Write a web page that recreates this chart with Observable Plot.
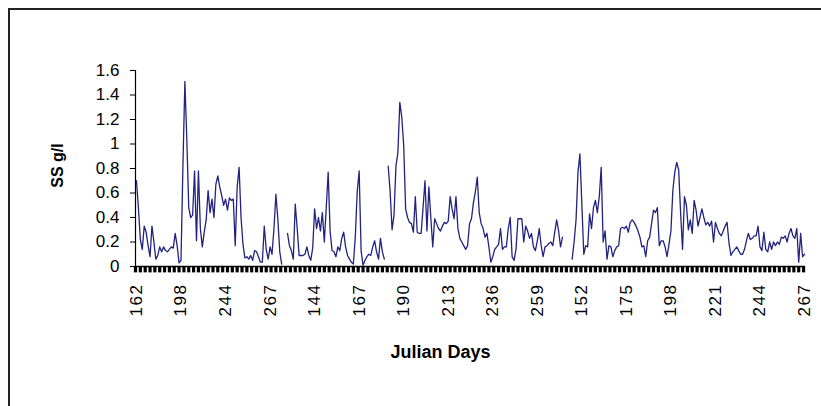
<!DOCTYPE html>
<html><head><meta charset="utf-8">
<script src="https://cdn.jsdelivr.net/npm/d3@7"></script>
<script src="https://cdn.jsdelivr.net/npm/@observablehq/plot@0.6"></script>
<style>
html,body{margin:0;padding:0;background:#fff;overflow:hidden;}
#wrap{position:relative;width:821px;height:406px;overflow:hidden;}
#frame{position:absolute;left:8px;top:8px;width:900px;height:500px;border-top:2px solid #222;border-left:2px solid #222;}
#chart{position:absolute;left:0;top:0;}
</style></head>
<body><div id="wrap"><div id="frame"></div><div id="chart"></div></div>
<script>
// Suspended sediment (g/l), one reading per category; null = missing reading
const season1 = [
  0.70,0.48,0.22,0.14,0.33,0.28,0.17,0.08,0.33,0.20,
  0.06,0.09,0.16,0.12,0.16,0.13,0.12,0.14,0.16,0.15,
  0.27,0.17,0.03,0.05,0.83,1.51,1.04,0.48,0.40,0.42,
  0.78,0.21,0.78,0.31,0.16,0.28,0.38,0.62,0.44,0.55,
  0.40,0.67,0.74,0.65,0.58,0.50,0.55,0.46,0.56,0.54,
  0.55,0.17,0.65,0.81,0.40,0.18,0.07,0.08,0.06,0.09,
  0.05,0.13,0.12,0.08,0.035,0.035,0.33,0.14,0.06,0.16,
  0.10,0.31,0.59,0.39,0.12,0.02,null,null
];
const season2 = [
  0.27,0.17,0.13,0.06,0.51,0.31,0.09,0.09,0.09,0.10,
  0.16,0.09,0.05,0.15,0.47,0.31,0.40,0.29,0.44,0.20,
  0.48,0.77,0.29,0.13,0.12,0.08,0.16,0.13,0.23,0.28,
  0.16,0.09,0.06,0.035,0.02,0.24,0.61,0.78,0.13,0.01,
  0.05,0.08,0.10,0.09,0.16,0.21,0.12,0.06,0.23,0.12,
  0.06,null,0.82,0.61,0.30,0.42,0.82,0.93,1.34,1.22,
  0.99,0.47,0.40,0.36,0.35,0.28,0.57,0.28,0.27,0.27,
  0.48,0.70,0.29,0.65,0.40,0.16,0.39,0.35,0.31,0.29,
  0.33,0.36,0.35,0.37,0.57,0.47,0.39,0.57,0.31,0.23,
  0.20,0.17,0.14,0.17,0.35,0.39,0.52,0.61,0.73,0.44,
  0.35,0.31,0.24,0.27,0.16,0.035,0.08,0.14,0.16,0.18,
  0.31,0.14,0.16,0.16,0.31,0.40,0.08,0.05,0.14,0.39,
  0.39,0.39,0.20,0.33,0.29,0.23,0.27,0.16,0.13,0.21,
  0.31,0.17,0.08,0.16,0.17,0.19,0.20,0.17,0.28,0.38,
  0.29,0.16,0.24,null,null,null,null
];
const season3 = [
  0.06,0.20,0.38,0.77,0.92,0.51,0.10,0.17,0.16,0.43,
  0.31,0.48,0.54,0.44,0.57,0.81,0.20,0.29,0.06,0.17,
  0.16,0.08,0.13,0.16,0.17,0.31,0.32,0.31,0.33,0.28,
  0.36,0.38,0.36,0.33,0.29,0.24,0.16,0.17,0.08,0.21,
  0.24,0.35,0.46,0.44,0.48,0.17,0.21,0.21,0.16,0.08,
  0.18,0.29,0.62,0.77,0.85,0.79,0.44,0.14,0.57,0.50,
  0.30,0.38,0.27,0.54,0.46,0.33,0.40,0.47,0.40,0.34,
  0.36,0.33,0.37,0.20,0.36,0.31,0.27,0.25,0.29,0.33,
  0.36,0.19,0.09,0.12,0.14,0.16,0.13,0.10,0.10,0.14,
  0.21,0.27,0.22,0.23,0.25,0.25,0.33,0.16,0.13,0.28,
  0.14,0.12,0.20,0.14,0.20,0.17,0.20,0.18,0.24,0.23,
  0.25,0.20,0.27,0.31,0.25,0.23,0.31,0.035,0.27,0.08,0.10
];
const tickLabels = ["162","198","244","267","144","167","190","213","236","259","152","175","198","221","244","267"];
const yTicks = [0, 0.2, 0.4, 0.6, 0.8, 1, 1.2, 1.4, 1.6];
const labelEvery = 23;

const ss = [...season1, ...season2, ...season3];
const data = ss.map((v, i) => ({i, v}));
const labelPos = tickLabels.map((_, k) => k * labelEvery);
const tickMarks = d3.range(-0.5, ss.length, 2.5);

const chart = Plot.plot({
  width: 821, height: 406,
  marginLeft: 135, marginRight: 16, marginTop: 70, marginBottom: 140,
  style: {fontFamily: "'Liberation Sans', Arial, sans-serif", background: "transparent", color: "#000"},
  x: {domain: [-0.5, ss.length - 0.5], axis: null},
  y: {domain: [0, 1.6], axis: null},
  marks: [
    Plot.axisY(yTicks, {tickSize: 5, tickPadding: 11, fontSize: 17, tickFormat: d => String(d), label: null}),
    Plot.ruleX([-0.5], {y1: 0, y2: 1.6, stroke: "#000", strokeWidth: 1.2}),
    Plot.ruleX(tickMarks, {x: d => d, y1: 0, y2: -0.052, stroke: "#000", strokeWidth: 3.2}),
    Plot.ruleY([0], {stroke: "#000", strokeWidth: 1.5}),
    Plot.lineY(data, {x: "i", y: "v", stroke: "#222280", strokeWidth: 1.3}),
    Plot.text(labelPos, {x: d => d, y: 0, text: d => tickLabels[d / labelEvery], rotate: -90,
      textAnchor: "end", lineAnchor: "middle", dy: 17, fontSize: 17, className: "xlab"}),
    Plot.text(["SS g/l"], {frameAnchor: "left", dx: -78, dy: -3, rotate: -90, textAnchor: "middle",
      lineAnchor: "middle", fontWeight: "bold", fontSize: 16}),
    Plot.text(["Julian Days"], {frameAnchor: "bottom", dx: -30, dy: 86, textAnchor: "middle",
      lineAnchor: "middle", fontWeight: "bold", fontSize: 18})
  ]
});
d3.select(chart).selectAll(".xlab text").style("letter-spacing", "1.5px");
document.getElementById("chart").appendChild(chart);
</script>
</body></html>
